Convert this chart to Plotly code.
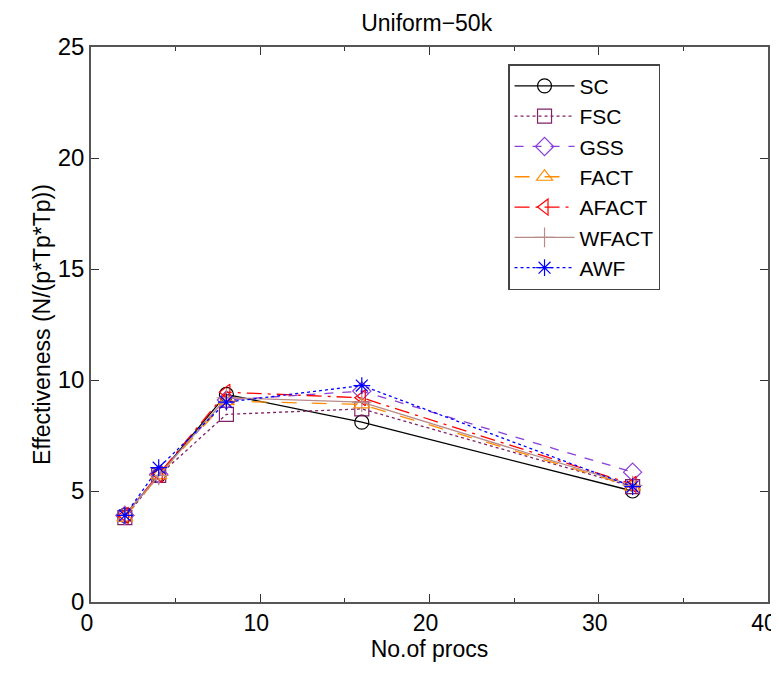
import plotly.graph_objects as go

# data =================================
procs = [2, 4, 8, 16, 32]

sc = [3.9, 5.7, 9.35, 8.1, 5.0]
fsc = [3.8, 5.7, 8.45, 8.7, 5.2]
gss = [3.9, 5.75, 9.1, 9.5, 5.85]
fact = [3.8, 5.7, 9.05, 8.9, 5.2]
afact = [3.9, 5.75, 9.45, 9.2, 5.3]
wfact = [3.9, 5.7, 9.2, 9.0, 5.25]
awf = [3.9, 6.05, 9.0, 9.75, 5.2]

names = ["SC", "FSC", "GSS", "FACT", "AFACT", "WFACT", "AWF"]
series = [sc, fsc, gss, fact, afact, wfact, awf]

# styles per series
colors = ["#000000", "#7f2266", "#8a3fd6", "#ff8c00", "#ff0000", "#b88a8a", "#0000ff"]
dashes = ["solid", "dot", "dash", "longdash", "longdashdot", "solid", "dot"]
symbols = ["circle-open", "square-open", "diamond-open", "triangle-up-open",
           "triangle-left-open", "cross-thin-open", "asterisk-open"]

fig = go.Figure()
for name, vals, c, d, s in zip(names, series, colors, dashes, symbols):
    fig.add_trace(go.Scatter(
        x=procs, y=vals, name=name, mode="lines+markers",
        line=dict(color=c, dash=d, width=1.3),
        marker=dict(symbol=s, size=14, color=c, line=dict(color=c, width=1.2)),
    ))

axis_style = dict(
    showline=True, linecolor="#555555", linewidth=1.5, mirror="ticks",
    ticks="inside", ticklen=8, tickcolor="#333333", tickwidth=1,
    showgrid=False, zeroline=False,
    tickfont=dict(size=24, color="black"),
)

fig.update_xaxes(range=[0, 40], dtick=10, **axis_style,
                 ticklabeloverflow="allow", ticklabelshift=-4,  # keeps "40" inside the page
                 minor=dict(dtick=5, ticks="inside", ticklen=4, tickcolor="#333333"),
                 title=dict(text="No.of procs", font=dict(size=23), standoff=5))
fig.update_xaxes(tickfont=dict(size=23))
fig.update_yaxes(range=[0, 25], dtick=5, **axis_style,
                 title=dict(text="Effectiveness (N/(p*Tp*Tp))", font=dict(size=23), standoff=1))

# page body has an 8px margin, so the figure is sized to land the plot box where the reference has it
fig.update_layout(
    width=771, height=665,
    margin=dict(l=83, r=11, t=39, b=71, autoexpand=False),
    paper_bgcolor="white", plot_bgcolor="white",
    font=dict(family="Liberation Sans, Arial, sans-serif", color="black"),
    title=dict(text="Uniform\u221250k", x=0.543, xanchor="center", y=0.99, yanchor="top",
               font=dict(size=23)),
    legend=dict(x=0.616, y=0.969, xanchor="left", yanchor="top",
                bordercolor="#444444", borderwidth=1.5, bgcolor="white",
                font=dict(size=21), itemwidth=60, tracegroupgap=0),
)

fig.write_html("out.html")
